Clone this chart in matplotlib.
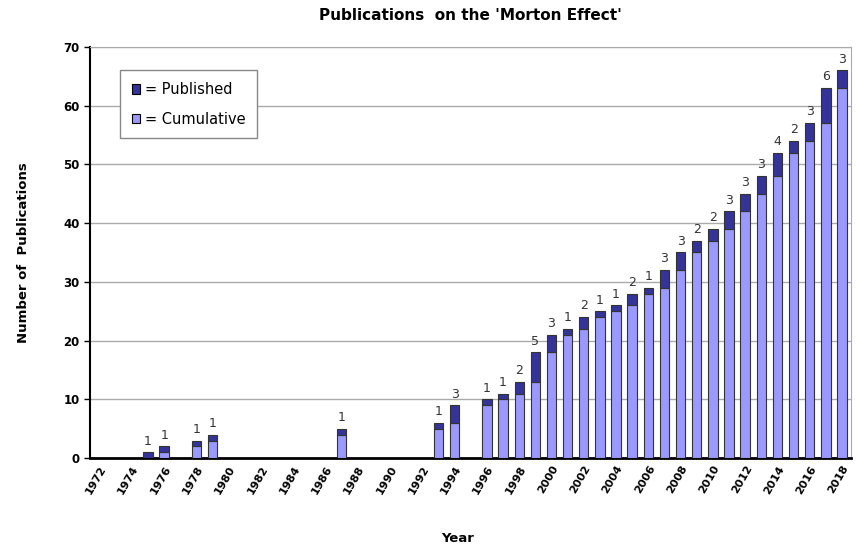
import matplotlib.pyplot as plt
from matplotlib.patches import Patch

years = [1975, 1976, 1978, 1979, 1987, 1993, 1994,
         1996, 1997, 1998, 1999, 2000, 2001, 2002, 2003, 2004, 2005,
         2006, 2007, 2008, 2009, 2010, 2011, 2012, 2013, 2014, 2015,
         2016, 2017, 2018]
published = [1, 1, 1, 1, 1, 1, 3,
             1, 1, 2, 5, 3, 1, 2, 1, 1, 2,
             1, 3, 3, 2, 2, 3, 3, 3, 4, 2,
             3, 6, 3]
tick_years = list(range(1972, 2019, 2))

# cumulative before each year's publications
previous = []
total = 0
for p in published:
    previous.append(total)
    total += p

dark = '#333399'
light = '#9999ff'

fig = plt.figure(figsize=(8.56, 5.5), dpi=100)
ax = fig.add_axes([0.105, 0.167, 0.889, 0.748])

ax.bar(years, previous, width=0.58, color=light, edgecolor='#333333', linewidth=0.8, zorder=3)
ax.bar(years, published, bottom=previous, width=0.58, color=dark, edgecolor='#333333',
       linewidth=0.8, zorder=3)

for y, b, p in zip(years, previous, published):
    ax.text(y, b + p + 0.8, str(p), ha='center', va='bottom', fontsize=9, color='#333333')

ax.set_xlim(1971.4, 2018.55)
ax.set_ylim(0, 70)
ax.set_yticks(range(0, 71, 10))
ax.set_xticks(tick_years)
ax.set_xticklabels([str(t) for t in tick_years], rotation=60, ha='right',
                   rotation_mode='anchor', fontsize=8, fontweight='bold')
for lbl in ax.get_yticklabels():
    lbl.set_fontweight('bold')
    lbl.set_fontsize(8.5)

ax.yaxis.grid(True, color='#aaaaaa', linewidth=1, zorder=0)
ax.set_axisbelow(True)
for side in ['top', 'right']:
    ax.spines[side].set_color('#aaaaaa')
ax.spines['left'].set_linewidth(1.5)
ax.spines['bottom'].set_linewidth(2)
ax.tick_params(axis='y', length=4, width=1)
ax.tick_params(axis='x', length=0, pad=4)

ax.set_title("Publications  on the 'Morton Effect'", fontsize=11, fontweight='bold', pad=19)
ax.set_ylabel('Number of  Publications', fontsize=9.5, fontweight='bold', labelpad=24)
fig.text(0.535, 0.015, 'Year', ha='center', fontsize=9.5, fontweight='bold')

handles = [Patch(facecolor=dark, edgecolor='black', linewidth=0.8),
           Patch(facecolor=light, edgecolor='black', linewidth=0.8)]
leg = ax.legend(handles, ['= Published', '= Cumulative'], loc='upper left',
                bbox_to_anchor=(0.03, 0.96), fontsize=10.5, fancybox=False,
                handlelength=0.6, handleheight=0.6, handletextpad=0.3,
                labelspacing=1.0, borderpad=0.8, framealpha=1)
leg.get_frame().set_edgecolor('#888888')

fig.savefig('out.png', dpi=100)
